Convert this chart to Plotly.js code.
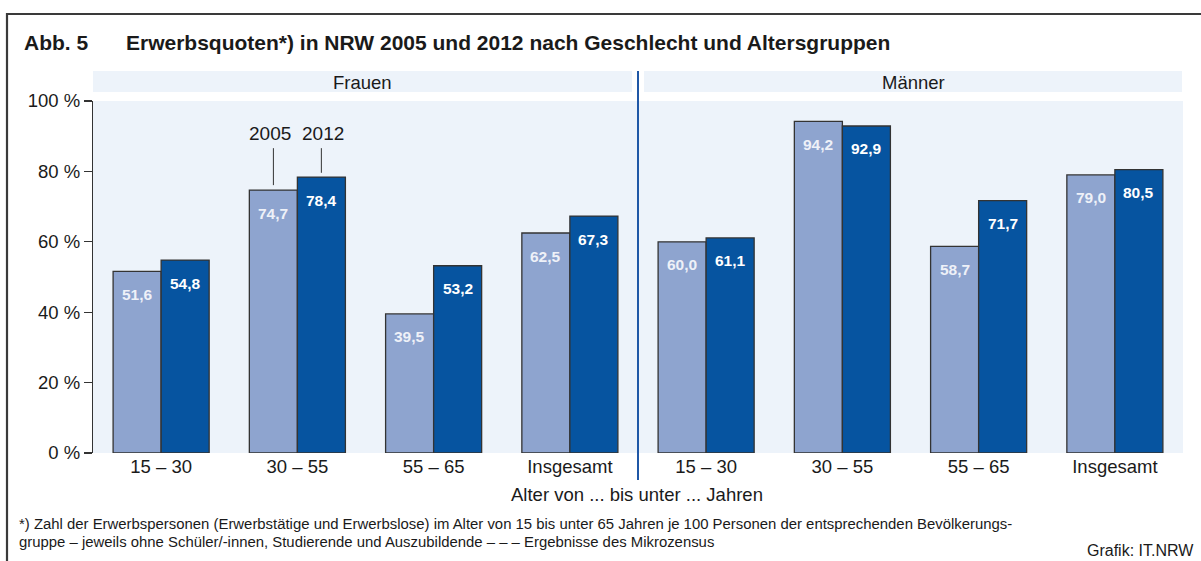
<!DOCTYPE html>
<html>
<head>
<meta charset="utf-8">
<script src="https://cdn.plot.ly/plotly-3.0.1.min.js"></script>
<style>
html,body{margin:0;padding:0;background:#fff;}
#chart{width:1201px;height:561px;}
</style>
</head>
<body>
<div id="chart"></div>
<script>
// ---- data ----
const groups = ["Frauen", "Männer"];
const ageLabels = ["15 – 30", "30 – 55", "55 – 65", "Insgesamt", "15 – 30", "30 – 55", "55 – 65", "Insgesamt"];
const values2005 = [51.6, 74.7, 39.5, 62.5, 60.0, 94.2, 58.7, 79.0];
const values2012 = [54.8, 78.4, 53.2, 67.3, 61.1, 92.9, 71.7, 80.5];
const seriesNames = ["2005", "2012"];
const yTicks = [0, 20, 40, 60, 80, 100];

// ---- layout helpers (pixel -> paper) ----
const W = 1201, H = 561;
const L = 93, R = 1183, T = 101, B = 453;
const px = x => (x - L) / (R - L);
const py = y => (B - y) / (B - T);

const FONT = "Liberation Sans, Arial, Helvetica, sans-serif";
const TXT = "#1a1a1a";
const xIdx = ageLabels.map((_, i) => i);
const fmt = v => v.toFixed(1).replace(".", ",");

const barLine = {color: "#333333", width: 1.3};
const traces = [
  {type: "bar", name: seriesNames[0], x: xIdx, y: values2005,
   marker: {color: "#8ea4cf", line: barLine}, hoverinfo: "skip"},
  {type: "bar", name: seriesNames[1], x: xIdx, y: values2012,
   marker: {color: "#0654a0", line: barLine}, hoverinfo: "skip"}
];

const OFF = 0.176; // half of bar width in category units
const annotations = [];
// value labels inside bars
values2005.forEach((v, i) => annotations.push({
  x: i - OFF, y: v, xref: "x", yref: "y", text: "<b>" + fmt(v) + "</b>",
  showarrow: false, yanchor: "middle", yshift: -23,
  font: {family: FONT, size: 15.5, color: "#eef1f8"}
}));
values2012.forEach((v, i) => annotations.push({
  x: i + OFF, y: v, xref: "x", yref: "y", text: "<b>" + fmt(v) + "</b>",
  showarrow: false, yanchor: "middle", yshift: -23,
  font: {family: FONT, size: 15.5, color: "#ffffff"}
}));
// series legend labels above 30-55 Frauen (leader lines drawn as shapes below)
const LEADER_TOP = 86.6;
annotations.push({
  x: 1 - OFF, y: LEADER_TOP, xref: "x", yref: "y", yanchor: "bottom", yshift: 2, xshift: -3,
  text: seriesNames[0], showarrow: false, font: {family: FONT, size: 19, color: TXT}
});
annotations.push({
  x: 1 + OFF, y: LEADER_TOP, xref: "x", yref: "y", yanchor: "bottom", yshift: 2, xshift: 2,
  text: seriesNames[1], showarrow: false, font: {family: FONT, size: 19, color: TXT}
});
// group headers
annotations.push({x: px(362), y: py(82), xref: "paper", yref: "paper", text: groups[0],
  showarrow: false, xanchor: "center", yanchor: "middle", font: {family: FONT, size: 18.5, color: TXT}});
annotations.push({x: px(913), y: py(82), xref: "paper", yref: "paper", text: groups[1],
  showarrow: false, xanchor: "center", yanchor: "middle", font: {family: FONT, size: 18.5, color: TXT}});
// title
annotations.push({x: px(22), y: py(43), xref: "paper", yref: "paper", text: "<b>Abb. 5</b>",
  showarrow: false, xanchor: "left", yanchor: "middle", font: {family: FONT, size: 21, color: TXT}});
annotations.push({x: px(124), y: py(43), xref: "paper", yref: "paper",
  text: "<b>Erwerbsquoten*) in NRW 2005 und 2012 nach Geschlecht und Altersgruppen</b>",
  showarrow: false, xanchor: "left", yanchor: "middle", font: {family: FONT, size: 21, color: TXT}});
// x axis title
annotations.push({x: px(637), y: py(494), xref: "paper", yref: "paper",
  text: "Alter von ... bis unter ... Jahren",
  showarrow: false, xanchor: "center", yanchor: "middle", font: {family: FONT, size: 18.5, color: TXT}});
// footnote
annotations.push({x: px(17), y: py(524), xref: "paper", yref: "paper",
  text: "*) Zahl der Erwerbspersonen (Erwerbstätige und Erwerbslose) im Alter von 15 bis unter 65 Jahren je 100 Personen der entsprechenden Bevölkerungs-",
  showarrow: false, xanchor: "left", yanchor: "middle", font: {family: FONT, size: 14.9, color: TXT}});
annotations.push({x: px(17), y: py(542), xref: "paper", yref: "paper",
  text: "gruppe – jeweils ohne Schüler/-innen, Studierende und Auszubildende – – – Ergebnisse des Mikrozensus",
  showarrow: false, xanchor: "left", yanchor: "middle", font: {family: FONT, size: 14.9, color: TXT}});
annotations.push({x: px(1196), y: py(550), xref: "paper", yref: "paper",
  text: "Grafik: IT.NRW",
  showarrow: false, xanchor: "right", yanchor: "middle", font: {family: FONT, size: 16, color: TXT}});

const BG = "#edf3fa";
const shapes = [
  // header bands
  {type: "rect", xref: "paper", yref: "paper", x0: px(93), x1: px(632), y0: py(92), y1: py(71),
   fillcolor: BG, line: {width: 0}, layer: "below"},
  {type: "rect", xref: "paper", yref: "paper", x0: px(644), x1: px(1182), y0: py(92), y1: py(71),
   fillcolor: BG, line: {width: 0}, layer: "below"},
  // leader lines for series labels
  {type: "line", xref: "x", yref: "y", x0: 1 - OFF, x1: 1 - OFF, y0: values2005[1] + 1.4, y1: LEADER_TOP,
   line: {color: "#333", width: 1}},
  {type: "line", xref: "x", yref: "y", x0: 1 + OFF, x1: 1 + OFF, y0: values2012[1] + 1.2, y1: LEADER_TOP,
   line: {color: "#333", width: 1}},
  // separator
  {type: "line", xref: "x", yref: "paper", x0: 3.5, x1: 3.5, y0: py(480), y1: py(71),
   line: {color: "#1f57a6", width: 2}},
  // outer frame
  {type: "line", xref: "paper", yref: "paper", x0: px(7), x1: px(1201), y0: py(14), y1: py(14),
   line: {color: "#3a3a3a", width: 2.2}},
  {type: "line", xref: "paper", yref: "paper", x0: px(7), x1: px(7), y0: py(13), y1: py(561),
   line: {color: "#3a3a3a", width: 2.2}}
];

const layout = {
  width: W, height: H,
  margin: {l: L, r: W - R, t: T, b: H - B, pad: 0},
  paper_bgcolor: "#ffffff",
  plot_bgcolor: BG,
  barmode: "group", bargap: 0.295, bargroupgap: 0,
  showlegend: false,
  font: {family: FONT, size: 18, color: TXT},
  xaxis: {
    range: [-0.5, 7.5], tickvals: xIdx, ticktext: ageLabels,
    showgrid: false, zeroline: false, showline: false, ticks: "",
    tickfont: {family: FONT, size: 18.5, color: TXT}, fixedrange: true
  },
  yaxis: {
    range: [0, 100], tickvals: yTicks, ticktext: yTicks.map(v => v + " %"),
    showgrid: false, zeroline: false, showline: true, linecolor: "#333", linewidth: 1.2,
    ticks: "outside", ticklen: 8, tickcolor: "#333", tickwidth: 1.2,
    tickfont: {family: FONT, size: 18.5, color: TXT}, fixedrange: true
  },
  annotations: annotations,
  shapes: shapes
};

Plotly.newPlot("chart", traces, layout, {displayModeBar: false, staticPlot: true});
</script>
</body>
</html>
